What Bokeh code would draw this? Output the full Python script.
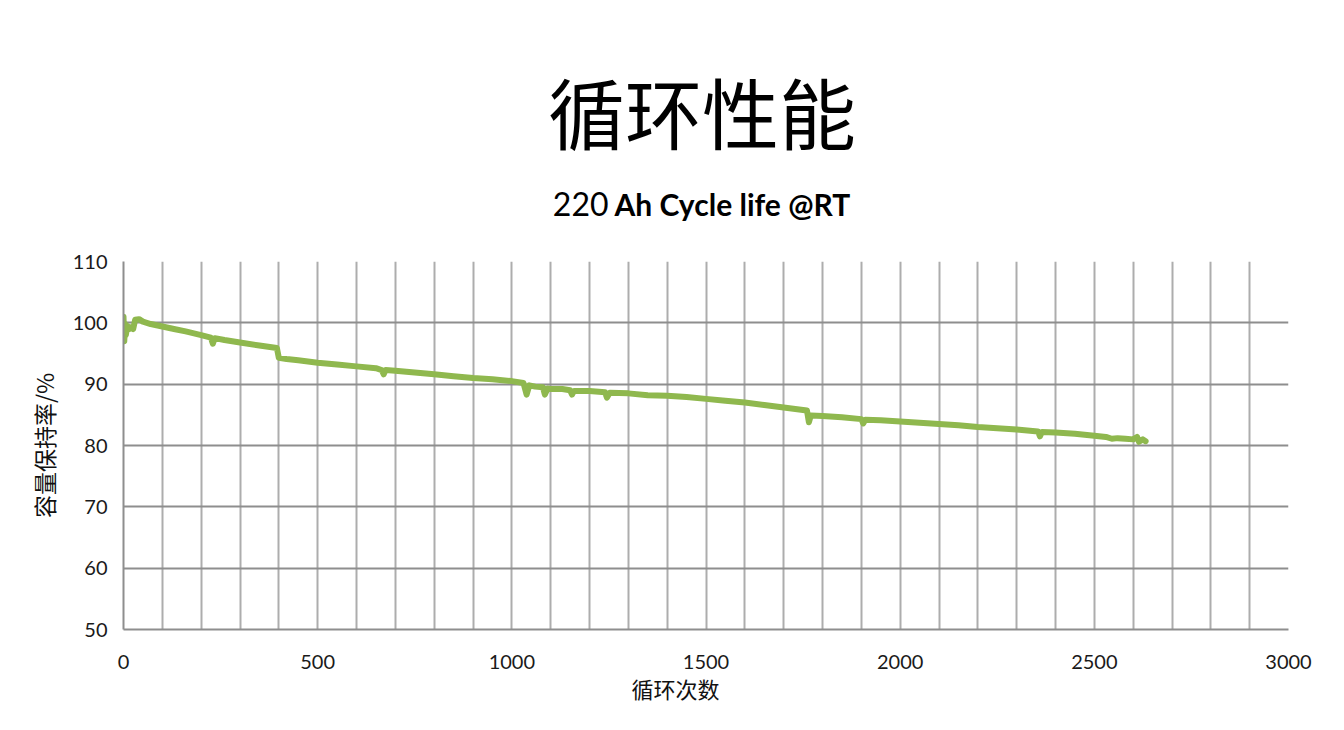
from bokeh.plotting import figure
from bokeh.layouts import column
from bokeh.models import Range1d, SingleIntervalTicker, ColumnDataSource
from bokeh.core.properties import value
from bokeh.embed import file_html
from bokeh.resources import INLINE

# ---- data ----
cycles = [0, 2, 4, 6, 10, 15, 20, 25, 30, 40, 50, 70, 100, 130, 160, 200, 225, 230, 235,
          260, 300, 350, 395, 400, 420, 450, 500, 550, 600, 650, 665, 670, 675, 700, 750,
          800, 850, 900, 950, 1000, 1030, 1038, 1045, 1060, 1080, 1085, 1092, 1100, 1130,
          1150, 1155, 1160, 1200, 1240, 1245, 1252, 1300, 1350, 1400, 1450, 1500, 1550,
          1600, 1650, 1700, 1750, 1760, 1765, 1770, 1800, 1850, 1900, 1905, 1910, 1950,
          2000, 2050, 2100, 2150, 2200, 2250, 2300, 2355, 2360, 2365, 2400, 2450, 2500,
          2530, 2545, 2560, 2580, 2600, 2610, 2615, 2625, 2632]
retention = [101.0, 97.0, 99.8, 98.0, 99.5, 99.0, 99.3, 99.0, 100.5, 100.6, 100.2, 99.8,
             99.4, 99.0, 98.6, 98.0, 97.6, 96.6, 97.5, 97.2, 96.8, 96.3, 95.9, 94.3, 94.1,
             93.9, 93.5, 93.2, 92.9, 92.6, 92.3, 91.6, 92.3, 92.2, 91.9, 91.6, 91.3, 91.0,
             90.8, 90.5, 90.2, 88.3, 89.8, 89.6, 89.5, 88.3, 89.3, 89.2, 89.2, 89.0, 88.3,
             88.9, 88.9, 88.7, 87.8, 88.6, 88.5, 88.2, 88.1, 87.9, 87.6, 87.3, 87.0, 86.6,
             86.2, 85.8, 85.7, 83.8, 84.9, 84.8, 84.6, 84.3, 83.6, 84.2, 84.1, 83.9, 83.7,
             83.5, 83.3, 83.0, 82.8, 82.6, 82.3, 81.5, 82.2, 82.1, 81.9, 81.6, 81.4, 81.1,
             81.2, 81.1, 81.0, 81.4, 80.6, 81.0, 80.7]
x_ticks = [0, 500, 1000, 1500, 2000, 2500, 3000]
y_ticks = [50, 60, 70, 80, 90, 100, 110]

title_text = "循环性能"
subtitle_num = "220"
subtitle_rest = "Ah Cycle life @RT"
x_label = "循环次数"
y_label = "容量保持率/%"

W = 1344
HEAD_H, FOOT_H = 245, 59
MAIN_H = 730 - HEAD_H - FOOT_H
LEFT, RIGHT = 123, 1288
FRAME_TOP, FRAME_BOTTOM = 261, 629
X0, X1, Y0, Y1 = 0, 3000, 50, 110


def blank(height):
    # frame is aligned with the main chart's frame (LEFT..RIGHT) by the column layout,
    # so the x range is expressed in page pixels over that span
    f = figure(width=W, height=height, output_backend="svg", toolbar_location=None,
               title=None,
               x_range=Range1d(LEFT, RIGHT), y_range=Range1d(height, 0),
               x_axis_type=None, y_axis_type=None,
               min_border_left=LEFT, min_border_right=W - RIGHT,
               min_border_top=0, min_border_bottom=0)
    f.outline_line_color = None
    f.xgrid.visible = False
    f.ygrid.visible = False
    f.background_fill_color = "white"
    f.border_fill_color = "white"
    return f


# ---- header (title + subtitle) ----
head = blank(HEAD_H)
head.text(x=[701.5], y=[110], text=[title_text], text_align="center",
          text_baseline="middle", text_font=value("Noto Sans CJK SC"),
          text_font_size="77px", text_color="#000000")
head.text(x=[608], y=[203], text=[subtitle_num], text_align="right",
          text_baseline="alphabetic", text_font=value("Lato"),
          text_font_size="32px", text_color="#000000")
head.text(x=[614], y=[203], text=[subtitle_rest], text_align="left",
          text_baseline="alphabetic", text_font=value("Lato"), text_font_style="bold",
          text_font_size="30px", text_color="#000000")

# ---- main chart ----
top_border = FRAME_TOP - HEAD_H
bottom_border = MAIN_H - top_border - (FRAME_BOTTOM - FRAME_TOP)
p = figure(width=W, height=MAIN_H, output_backend="svg", toolbar_location=None,
           title=None,
           x_range=Range1d(X0, X1), y_range=Range1d(Y0, Y1),
           min_border_left=LEFT, min_border_right=W - RIGHT,
           min_border_top=top_border, min_border_bottom=bottom_border)
p.outline_line_color = None
p.background_fill_color = "white"
p.border_fill_color = "white"

p.xgrid.ticker = SingleIntervalTicker(interval=100)
p.xgrid.grid_line_color = "#ADADAD"
p.xgrid.grid_line_width = 2
p.ygrid.ticker = SingleIntervalTicker(interval=10)
p.ygrid.grid_line_color = "#8E8E8E"
p.ygrid.grid_line_width = 2

p.xaxis.ticker = x_ticks
p.yaxis.ticker = y_ticks
for ax in (p.xaxis, p.yaxis):
    ax.axis_line_color = "#8E8E8E"
    ax.axis_line_width = 2
    ax.major_tick_line_color = None
    ax.minor_tick_line_color = None
    ax.major_label_text_font = "Lato"
    ax.major_label_text_font_size = "20px"
    ax.major_label_text_color = "#1a1a1a"
p.xaxis.major_label_standoff = 19
p.yaxis.major_label_standoff = 10

p.yaxis.axis_label = y_label
p.yaxis.axis_label_text_font = "Noto Sans CJK SC"
p.yaxis.axis_label_text_font_size = "23px"
p.yaxis.axis_label_text_font_style = "normal"
p.yaxis.axis_label_text_color = "#111111"
p.yaxis.axis_label_standoff = 9

src = ColumnDataSource(data=dict(x=cycles, y=retention))
p.line("x", "y", source=src, line_color="#8FB84E", line_width=6,
       line_join="round", line_cap="round")

# ---- footer (x axis title) ----
foot = blank(FOOT_H)
foot.text(x=[675], y=[687 - (HEAD_H + MAIN_H)], text=[x_label], text_align="center",
          text_baseline="middle", text_font=value("Noto Sans CJK SC"),
          text_font_size="22px", text_color="#111111")

layout = column(head, p, foot, spacing=0)
open("out.html", "w").write(file_html(layout, INLINE))
